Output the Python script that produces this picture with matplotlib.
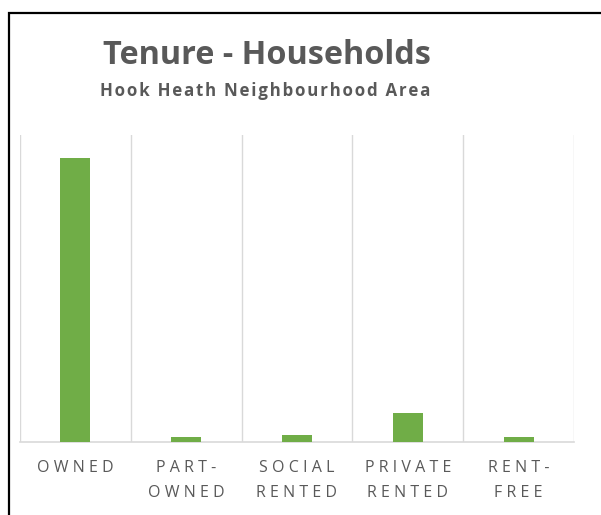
import matplotlib.pyplot as plt
from matplotlib.patches import Rectangle

# data
categories = ["OWNED", "PART-\nOWNED", "SOCIAL\nRENTED", "PRIVATE\nRENTED", "RENT-\nFREE"]
households = [1110, 20, 27, 113, 20]
y_max = 1200

GREEN = "#70AD47"
GREY = "#595959"
GRID = "#d9d9d9"
FONT = ["Open Sans", "DejaVu Sans"]


def spaced(s, sep="\u2009"):
    # fake letter spacing
    return "\n".join(sep.join(line) for line in s.split("\n"))


fig = plt.figure(figsize=(6.01, 5.15), dpi=100)
ax = fig.add_axes([20 / 601, 1 - 442 / 515, 554 / 601, 307 / 515])

x = list(range(len(categories)))
ax.bar(x, households, width=0.27, color=GREEN, zorder=3)

ax.set_xlim(-0.5, len(categories) - 0.5)
ax.set_ylim(0, y_max)

for b in [i - 0.5 for i in range(len(categories) + 1)]:
    ax.axvline(b, color=GRID, lw=1, zorder=1)

for s in ["top", "left", "right"]:
    ax.spines[s].set_visible(False)
ax.spines["bottom"].set_color(GRID)
ax.spines["bottom"].set_linewidth(1.2)
ax.set_yticks([])
ax.set_xticks(x)
ax.set_xticklabels([spaced(c, "\u2009\u200a") for c in categories], family=FONT,
                   fontsize=11.5, color=GREY, linespacing=1.75)
ax.tick_params(axis="x", length=0, pad=13)

fig.text(0.444, 1 - 55 / 515, "Tenure - Households", ha="center", va="center",
         family=FONT, fontsize=23.3, fontweight="bold", color=GREY)
fig.text(0.441, 1 - 91 / 515, spaced("Hook Heath Neighbourhood Area", "\u200a"),
         ha="center", va="center", family=FONT, fontsize=12.2,
         fontweight="bold", color=GREY)

# outer border
fig.patches.append(Rectangle((8.5 / 601, -0.05), 1.2, 1 - 12.5 / 515 + 0.05,
                             transform=fig.transFigure, fill=False,
                             edgecolor="black", lw=1.6))

fig.savefig("out.png", dpi=100)
